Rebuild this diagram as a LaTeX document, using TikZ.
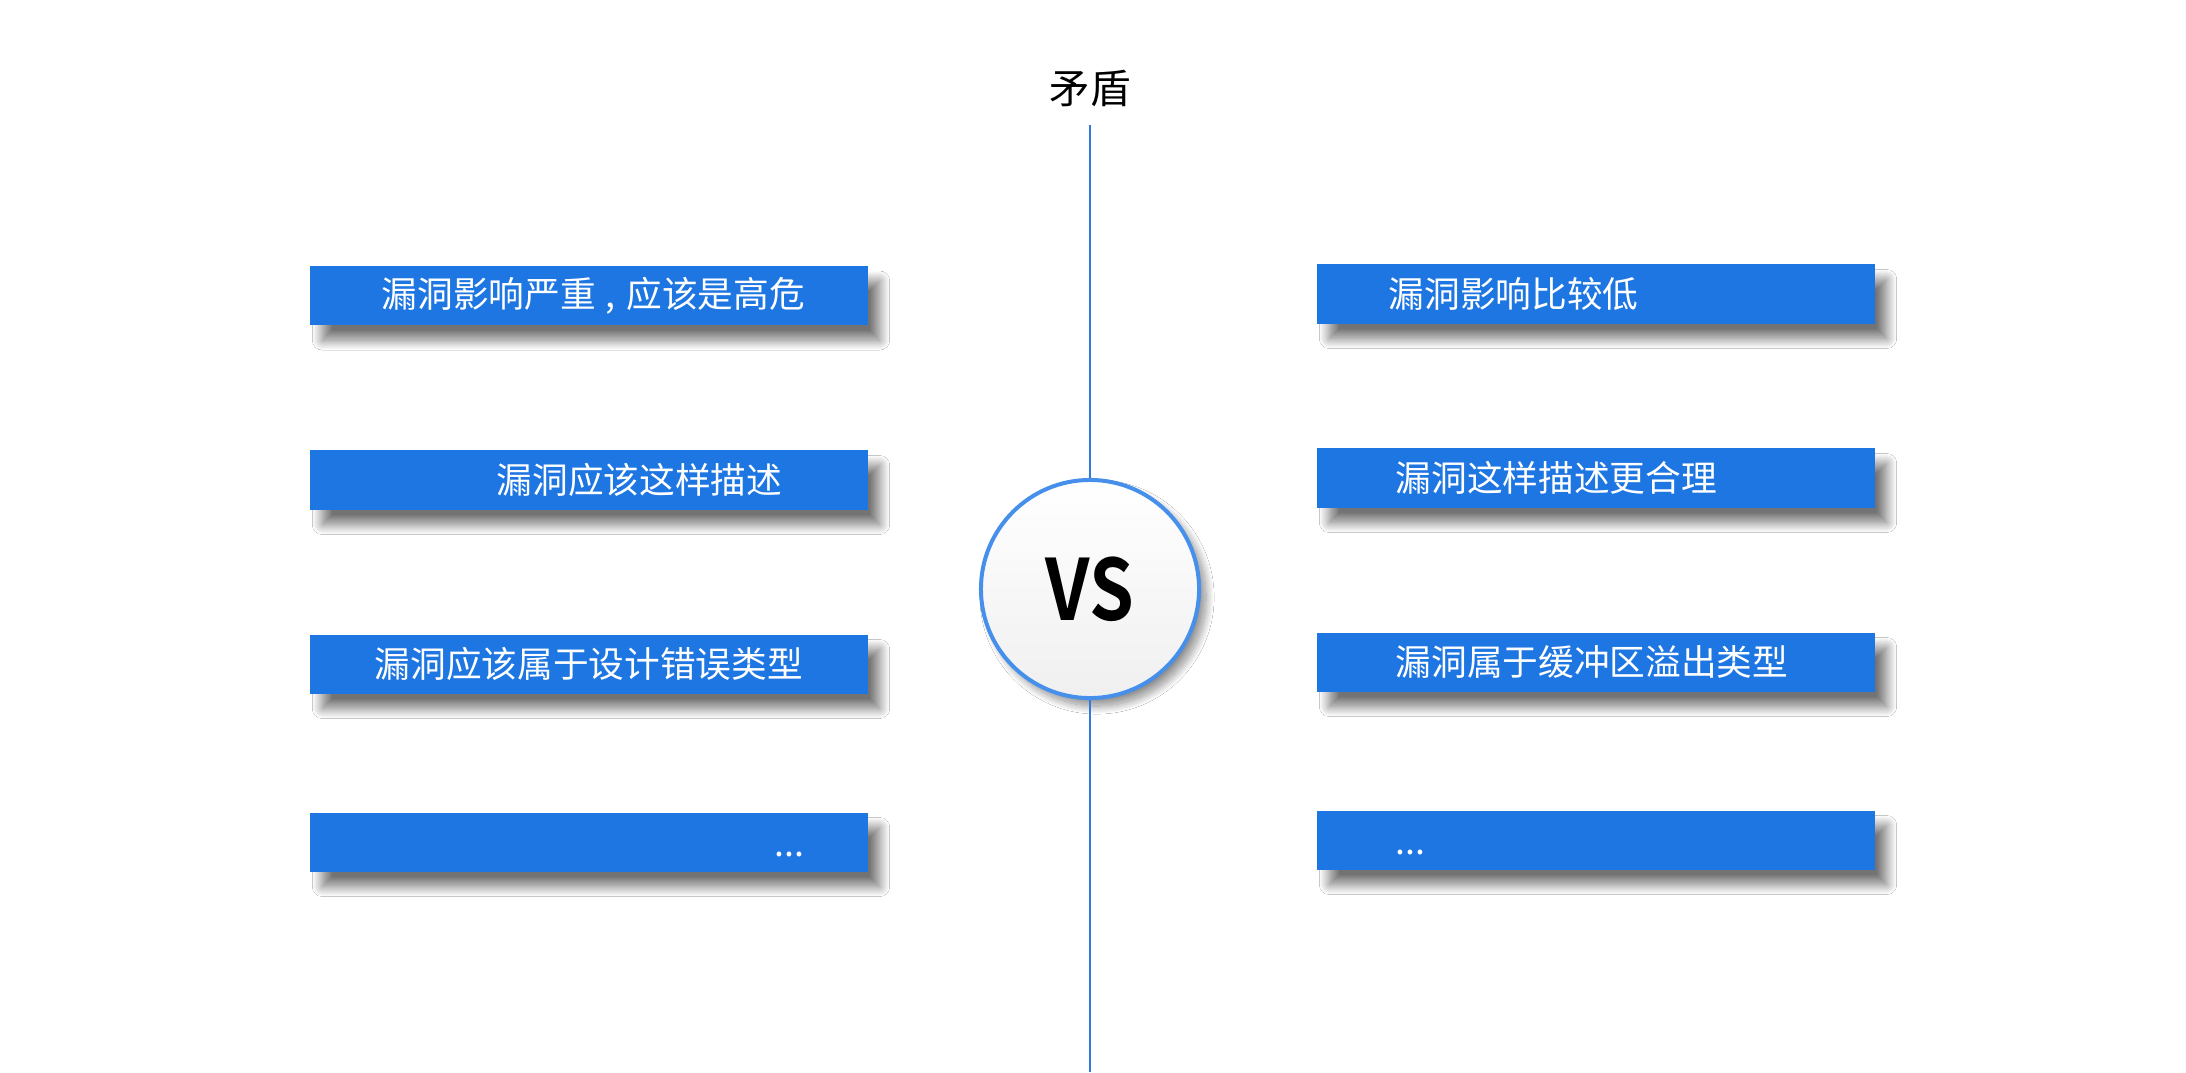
\documentclass[tikz,border=0pt]{standalone}
\usepackage{fontspec}
\newfontfamily\cjk{Noto Sans CJK SC}
\newfontfamily\vsfont[FakeStretch=0.85]{Noto Sans CJK SC Bold}
\usetikzlibrary{positioning, calc, shadows.blur}
\definecolor{barblue}{RGB}{30,118,226}
\definecolor{ringblue}{RGB}{70,144,236}
\definecolor{axisblue}{RGB}{46,122,222}

\begin{document}
\begin{tikzpicture}[x=0.01cm, y=-0.01cm,
  bar/.style={rectangle, fill=barblue, inner sep=0pt,
              minimum width=5.57cm, minimum height=0.59cm,
              blur shadow={shadow xshift=0.12cm, shadow yshift=-0.15cm,
                           shadow blur radius=0.1cm, shadow blur steps=20,
                           shadow opacity=55}},
  txt/.style={anchor=west, inner sep=0pt, text=white,
              font=\cjk\fontsize{10.15pt}{12pt}\selectfont},
  vsball/.style={circle, draw=ringblue, line width=0.04cm, inner sep=0pt,
                 minimum size=2.18cm, top color=white, bottom color=black!6,
                 blur shadow={shadow xshift=0.07cm, shadow yshift=-0.08cm,
                              shadow blur radius=0.08cm, shadow blur steps=20,
                              shadow opacity=45},
                 font=\vsfont\fontsize{24pt}{28pt}\selectfont},
  axis/.style={axisblue, line width=0.6pt}
]
\fill[white] (0,0) rectangle (2186,1072);
\useasboundingbox (0,0) rectangle (2186,1072);

% title and axis
\node[inner sep=0pt, font=\cjk\fontsize{11.5pt}{14pt}\selectfont] (title) at (1090,88) {矛盾};
\coordinate (axistop) at (1090,125);
\coordinate (axisbot) at (1090,1072);

% left column
\node[bar] (L1) at (589,295.5) {};
\node[bar] (L2) at (589,480) {};
\node[bar] (L3) at (589,664) {};
\node[bar] (L4) at (589,842) {};
\node[txt] (L1t) at (381,295.5) {漏洞影响严重\hspace{0.28em},\hspace{0.3em}应该是高危};
\node[txt] (L2t) at (496,480) {漏洞应该这样描述};
\node[txt] (L3t) at (374,664) {漏洞应该属于设计错误类型};
\node[txt, anchor=base west] (L4t) at (774,856) {...};

% right column
\node[bar] (R1) at (1596,294) {};
\node[bar] (R2) at (1596,478) {};
\node[bar] (R3) at (1596,662) {};
\node[bar] (R4) at (1596,840) {};
\node[txt] (R1t) at (1388,294) {漏洞影响比较低};
\node[txt] (R2t) at (1395,478) {漏洞这样描述更合理};
\node[txt] (R3t) at (1395,662) {漏洞属于缓冲区溢出类型};
\node[txt, anchor=base west] (R4t) at (1395,854) {...};

% centre
\node[vsball] (vs) at (1090,589) {VS};
\draw[axis] (axistop) -- (vs);
\draw[axis] (vs) -- (axisbot);
\end{tikzpicture}
\end{document}
